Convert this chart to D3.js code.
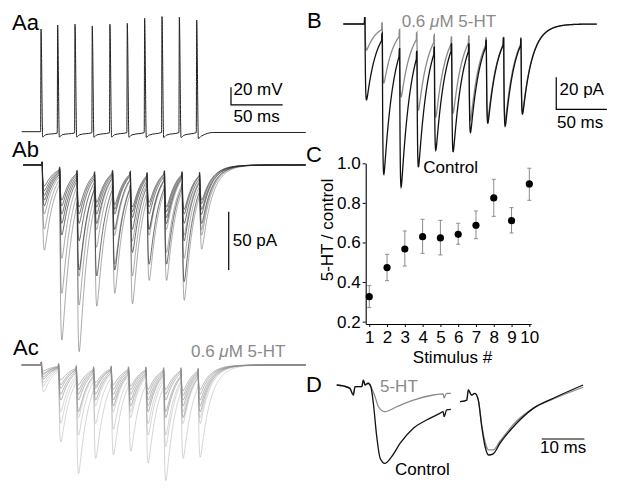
<!DOCTYPE html>
<html><head><meta charset="utf-8">
<script src="https://cdn.jsdelivr.net/npm/d3@7"></script>
<style>
body{margin:0;background:#fff}
svg{display:block}
text{font-family:"Liberation Sans",Arial,Helvetica,sans-serif}
</style></head><body>
<svg id="fig" width="618" height="492"></svg>
<script>
// ---------------- Panel C data ----------------
const stimulusNumbers = [1,2,3,4,5,6,7,8,9,10];
const ratioMean  = [0.326,0.473,0.567,0.629,0.623,0.641,0.687,0.825,0.710,0.896];
const ratioUpper = [0.382,0.540,0.658,0.717,0.712,0.697,0.759,0.919,0.776,0.975];
const ratioLower = [0.271,0.407,0.481,0.545,0.537,0.591,0.619,0.732,0.648,0.813];
const ratioTicks = [0.2,0.4,0.6,0.8,1.0];

// ---------------- Panel Aa data (ms, mV) ----------------
const spikeTimesAa = [18.7,34.8,51.6,68.3,85.4,102.2,119.0,135.8,152.6,169.4];
const spikePeaksAa = [46.0,50.6,51.5,49.5,51.5,52.5,58.3,60.1,59.4,56.2];
const preSpikeAa   = [-70,-71.6,-71.4,-71.2,-71.2,-71.0,-71.0,-70.8,-71.0,-71.0];
const ahpTroughAa  = [-76,-76,-76,-76.2,-76,-76.2,-76.4,-76.4,-76.6,-77.6];
const restingAa = -70;
const endRestAa = -70.9;
const sweepEndA = 245;

// ---------------- Panel Ab data (ms, pA trough depths, 8 sweeps) ----------------
const stimTimesAb = [19.9,36.9,53.7,70.8,88.2,105.3,121.5,138.3,155.4,172.4];
const sweepsAb = [
  [73,150, 95,121, 60,119, 55, 99, 60, 72],
  [55,110,160, 70,110, 65, 99, 55,116, 55],
  [42, 80,120, 55, 85, 95, 60, 75, 80, 60],
  [35, 60, 90, 95, 55, 75, 85, 50, 65, 50],
  [30, 50, 65, 50, 90, 55, 55, 85,100, 42],
  [26, 42, 50, 42, 42, 45, 42, 45, 50, 38],
  [22, 35, 42, 36, 38, 40, 36, 40, 42, 33],
  [18, 30, 36, 32, 34, 36, 32, 36, 38, 30]
];

// ---------------- Panel Ac data (ms, pA trough depths, 8 sweeps in 5-HT) ----------------
const stimTimesAc = [19.2,35.9,53.1,69.8,86.9,103.7,120.5,137.6,154.4,170.9];
const sweepsAc = [
  [23, 66, 93, 50, 77, 45, 84, 99, 50, 79],
  [18, 50, 60, 80, 40, 74, 50, 60, 80, 45],
  [15, 40, 45, 35, 55, 40, 60, 70, 40, 50],
  [12, 30, 40, 30, 35, 35, 40, 45, 45, 40],
  [10, 25, 30, 25, 30, 30, 35, 40, 35, 35],
  [ 8, 20, 25, 20, 25, 25, 30, 30, 30, 30],
  [ 7, 17, 21, 18, 21, 21, 25, 25, 26, 25],
  [ 5, 13, 17, 15, 17, 18, 21, 21, 22, 21]
];

// ---------------- Panel B data (ms, pA trough depths) ----------------
const stimTimesB = [21.4,38.5,55.6,72.7,89.8,106.9,124.0,141.1,158.2,175.3];
const controlTroughsB = [47.5,93.9,101.7,89.2,78.8,79.8,67.7,62.0,63.8,56.3];
const serotoninTroughsB = [16.3,36.9,45.6,53.8,58.1,55.6,60.0,59.4,60.0,55.0];
const sweepEndB = 250;

// ---------------- Panel D data (ms, pA) ----------------
const dLeftBaseT = [0,1.55,3.1,3.9,4.3,5.9,6.25,6.65,7.4,8.0];
const dLeftBaseI = [0,-0.6,-2.1,-6.25,-1,-1,3.1,0,1.1,-1];
const dLeftCtrlT = [8.6,9.4,10.2,11.3,12.9,14.9,18,21.1,24.2,25,25.2,25.8,26.8];
const dLeftCtrlI = [-11.4,-32.3,-45.8,-49,-44.8,-36.4,-27,-21.9,-17.7,-16.7,-19.8,-15.6,-15.2];
const dLeft5htT  = [9,9.8,11.3,14.1,18,22.7,25,25.2,25.8,26.8];
const dLeft5htI  = [-7.3,-13.6,-16.7,-13.6,-9.4,-6.25,-5.6,-8.1,-5.2,-5.2];
const dRightBaseT = [0,1.6,1.95,2.7,3.5,4.3];
const dRightBaseI = [-10.4,-9.4,-3.1,-6.25,-5.2,-9.4];
const dRightCtrlT = [5.1,5.9,6.7,7.8,9.4,13.3,17.2,21.9,28.9];
const dRightCtrlI = [-26,-38.6,-43.75,-43,-36.4,-23.9,-14.6,-8.3,0];
const dRight5htT  = [5.1,5.9,6.7,7.8,9.4,13.3,17.2,21.9,28.9];
const dRight5htI  = [-25,-35.6,-40.6,-40.6,-35,-22.5,-14.6,-8.75,-1.4];

// ================= drawing =================
const svg = d3.select("#fig");
const FONT = 17, LABEL = 22;
const GREY = "#8a8a8a";

function txt(x, y, s, opt={}) {
  return svg.append("text").attr("x", x).attr("y", y)
    .attr("font-size", opt.size || FONT).attr("fill", opt.fill || "#000")
    .attr("text-anchor", opt.anchor || "start").text(s);
}
function hormoneLabel(x, y) {
  const t = svg.append("text").attr("x", x).attr("y", y).attr("font-size", FONT).attr("fill", GREY);
  t.append("tspan").text("0.6 ");
  t.append("tspan").attr("font-style", "italic").text("\u03bc");
  t.append("tspan").text("M 5-HT");
}

// EPSC train renderer: trough depths are the read data; each event shape is a
// dual-exponential drawing template summed onto preceding events.
function epscTrain(stims, troughs, t0, t1, o) {
  const tauR = o.tauR, tauD = o.tauD;
  const tp = tauR * Math.log(1 + tauD / tauR);
  const norm = (1 - Math.exp(-tp / tauR)) * Math.exp(-tp / tauD);
  const k = s => s <= 0 ? 0 : (1 - Math.exp(-s / tauR)) * Math.exp(-s / tauD) / norm;
  const amps = [];
  stims.forEach((ts, i) => {
    let resid = 0;
    for (let j = 0; j < i; j++) resid += amps[j] * k(ts + tp - stims[j]);
    amps.push(Math.max(0, troughs[i] - resid));
  });
  const pts = [];
  for (let t = t0; t <= t1 + 1e-9; t += 0.2) {
    let v = 0;
    stims.forEach((ts, j) => v += amps[j] * k(t - ts));
    let a = 0;
    if (o.artifact) stims.forEach(ts => { if (t >= ts - 0.5 && t < ts + 0.1) a = o.artifact; });
    pts.push([t, -v + a]);
  }
  return pts;
}

// ---------- Panel Aa ----------
const xA = d3.scaleLinear().domain([0, 50]).range([21.7, 73.35]);
const yAa = d3.scaleLinear().domain([-70, -50]).range([131.7, 114.0]);
(function () {
  const pts = [[0, restingAa]];
  spikeTimesAa.forEach((t, i) => {
    pts.push([t - 0.4, preSpikeAa[i]]);
    pts.push([t, spikePeaksAa[i]]);
    pts.push([t + 1.6, ahpTroughAa[i]]);
    pts.push([t + 4.5, ahpTroughAa[i] + 2.6]);
  });
  const last = spikeTimesAa[spikeTimesAa.length - 1];
  pts.push([last + 16, endRestAa]);
  pts.push([sweepEndA + 30, endRestAa]);
  pts.sort((a, b) => a[0] - b[0]);
  const line = d3.line().x(d => xA(d[0])).y(d => yAa(d[1])).curve(d3.curveMonotoneX);
  svg.append("path").attr("d", line(pts)).attr("fill", "none")
    .attr("stroke", "#222").attr("stroke-width", 1);
  const t0 = 202.6, v0 = -39.8;
  svg.append("path").attr("fill", "none").attr("stroke", "#000").attr("stroke-width", 1.2)
    .attr("d", `M${xA(t0)},${yAa(v0 + 20)}V${yAa(v0)}H${xA(t0 + 50)}`);
  txt(xA(t0) + 2.5, yAa(v0) - 9.5, "20 mV");
  txt(xA(t0) + 2.5, yAa(v0) + 16.7, "50 ms");
})();
txt(12, 29.5, "Aa", {size: LABEL});

// ---------- Panel Ab ----------
const yAb = d3.scaleLinear().domain([0, -50]).range([165, 223.3]);
(function () {
  const line = d3.line().x(d => xA(d[0])).y(d => yAb(d[1]));
  sweepsAb.forEach((sw, i) => {
    const pts = epscTrain(stimTimesAb, sw, 1.3, sweepEndA + 30, {tauR: 0.8, tauD: 9.5, artifact: 2.5});
    svg.append("path").attr("d", line(pts)).attr("fill", "none")
      .attr("stroke", i < 3 ? "#555" : "#2a2a2a").attr("stroke-width", i < 3 ? 0.5 : 0.7);
  });
  const t0 = 200.4;
  svg.append("line").attr("x1", xA(t0)).attr("x2", xA(t0))
    .attr("y1", yAb(-40)).attr("y2", yAb(-90)).attr("stroke", "#000").attr("stroke-width", 1.2);
  txt(xA(t0) + 4, yAb(-69.4), "50 pA");
})();
txt(12, 156.5, "Ab", {size: LABEL});

// ---------- Panel Ac ----------
const yAc = d3.scaleLinear().domain([0, -50]).range([365, 423.3]);
(function () {
  const line = d3.line().x(d => xA(d[0])).y(d => yAc(d[1]));
  sweepsAc.forEach((sw, i) => {
    const pts = epscTrain(stimTimesAc, sw, 0, sweepEndA + 30, {tauR: 0.8, tauD: 9.5, artifact: 2.5});
    svg.append("path").attr("d", line(pts)).attr("fill", "none")
      .attr("stroke", i < 3 ? "#a8a8a8" : "#8c8c8c").attr("stroke-width", i < 3 ? 0.5 : 0.7);
  });
})();
txt(13, 355, "Ac", {size: LABEL});
hormoneLabel(191, 356.7);

// ---------- Panel B ----------
const xB = d3.scaleLinear().domain([0, 50]).range([343.3, 394.0]);
const yB = d3.scaleLinear().domain([0, -20]).range([24, 56]);
(function () {
  const line = d3.line().x(d => xB(d[0])).y(d => yB(d[1]));
  const g = epscTrain(stimTimesB, serotoninTroughsB, 0, sweepEndB, {tauR: 0.5, tauD: 9.5, artifact: 4});
  const c = epscTrain(stimTimesB, controlTroughsB, 0, sweepEndB, {tauR: 0.5, tauD: 9.5, artifact: 4});
  svg.append("path").attr("d", line(g)).attr("fill", "none").attr("stroke", GREY).attr("stroke-width", 1.3);
  svg.append("path").attr("d", line(c)).attr("fill", "none").attr("stroke", "#111").attr("stroke-width", 1.3);
  const t0 = 210;
  svg.append("path").attr("fill", "none").attr("stroke", "#000").attr("stroke-width", 1.2)
    .attr("d", `M${xB(t0)},${yB(-33.3)}V${yB(-53.3)}H${xB(t0 + 50)}`);
  txt(xB(t0) + 3.3, yB(-44.4), "20 pA");
  txt(xB(t0) + 0.7, yB(-65.2), "50 ms");
})();
txt(307, 28, "B", {size: LABEL});
hormoneLabel(401.7, 27.3);
txt(423.3, 173, "Control");

// ---------- Panel C ----------
const xC = d3.scaleLinear().domain([0.8, 10.1]).range([365.7, 531.1]);
const yC = d3.scaleLinear().domain([0.188, 1.0]).range([324, 163.3]);
(function () {
  const gy = svg.append("g").attr("transform", `translate(${xC(0.8)},0)`)
    .call(d3.axisLeft(yC).tickValues(ratioTicks).tickFormat(d3.format(".1f")).tickSize(3).tickSizeOuter(0).tickPadding(2));
  const gx = svg.append("g").attr("transform", `translate(0,${yC(0.188)})`)
    .call(d3.axisBottom(xC).tickValues(stimulusNumbers).tickSize(3).tickSizeOuter(0).tickPadding(4));
  [gx, gy].forEach(g => {
    g.selectAll("text").attr("font-size", FONT).attr("font-family", '"Liberation Sans",Arial,sans-serif').attr("fill", "#000");
    g.select(".domain").attr("stroke", "#000").attr("stroke-width", 1.1);
    g.selectAll(".tick line").attr("stroke", "#000");
  });
  const eb = svg.append("g").attr("stroke", "#8c8c8c").attr("stroke-width", 1);
  stimulusNumbers.forEach((s, i) => {
    const x = xC(s);
    eb.append("line").attr("x1", x).attr("x2", x).attr("y1", yC(ratioLower[i])).attr("y2", yC(ratioUpper[i]));
    eb.append("line").attr("x1", x - 2).attr("x2", x + 2).attr("y1", yC(ratioLower[i])).attr("y2", yC(ratioLower[i]));
    eb.append("line").attr("x1", x - 2).attr("x2", x + 2).attr("y1", yC(ratioUpper[i])).attr("y2", yC(ratioUpper[i]));
  });
  svg.append("g").selectAll("circle").data(stimulusNumbers).join("circle")
    .attr("cx", d => xC(d)).attr("cy", (d, i) => yC(ratioMean[i])).attr("r", 3.6).attr("fill", "#000");
  txt(452.5, 362.5, "Stimulus #", {anchor: "middle"});
  svg.append("text").attr("transform", "translate(333,230) rotate(-90)")
    .attr("text-anchor", "middle").attr("font-size", FONT).text("5-HT / control");
})();
txt(306, 162, "C", {size: LABEL});

// ---------- Panel D ----------
const xDL = d3.scaleLinear().domain([0, 10]).range([336.7, 379.3]);
const xDR = d3.scaleLinear().domain([0, 10]).range([460, 502.6]);
const yD = d3.scaleLinear().domain([0, -20]).range([385, 417]);
(function () {
  const zip = (T, I) => T.map((t, i) => [t, I[i]]);
  const lineL = d3.line().x(d => xDL(d[0])).y(d => yD(d[1])).curve(d3.curveMonotoneX);
  const lineR = d3.line().x(d => xDR(d[0])).y(d => yD(d[1])).curve(d3.curveMonotoneX);
  const baseL = zip(dLeftBaseT, dLeftBaseI), baseR = zip(dRightBaseT, dRightBaseI);
  svg.append("path").attr("d", lineL(baseL.concat(zip(dLeft5htT, dLeft5htI)))).attr("fill", "none").attr("stroke", GREY).attr("stroke-width", 1.3);
  svg.append("path").attr("d", lineL(baseL.concat(zip(dLeftCtrlT, dLeftCtrlI)))).attr("fill", "none").attr("stroke", "#111").attr("stroke-width", 1.3);
  svg.append("path").attr("d", lineR(baseR.concat(zip(dRight5htT, dRight5htI)))).attr("fill", "none").attr("stroke", GREY).attr("stroke-width", 1.3);
  svg.append("path").attr("d", lineR(baseR.concat(zip(dRightCtrlT, dRightCtrlI)))).attr("fill", "none").attr("stroke", "#111").attr("stroke-width", 1.3);
  svg.append("line").attr("x1", xDR(19.2)).attr("x2", xDR(29.2)).attr("y1", yD(-33.75)).attr("y2", yD(-33.75))
    .attr("stroke", "#000").attr("stroke-width", 1.2);
  txt(xDR(24.2), yD(-33.75) + 14.3, "10 ms", {anchor: "middle"});
})();
txt(306, 392, "D", {size: LABEL});
txt(380, 391.7, "5-HT", {fill: GREY});
txt(395, 475, "Control");
</script>
</body></html>
